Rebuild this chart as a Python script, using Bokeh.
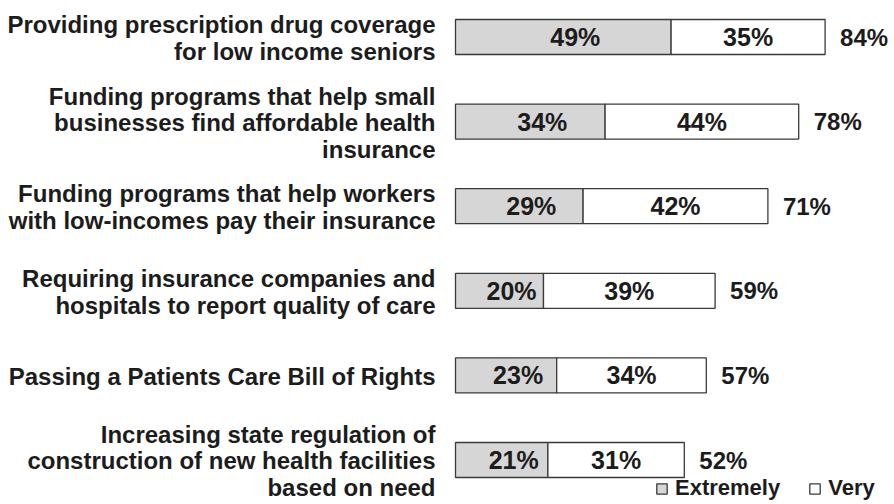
from bokeh.plotting import figure
from bokeh.models import ColumnDataSource, Range1d, Legend, LegendItem
from bokeh.core.properties import value
from bokeh.embed import file_html
from bokeh.resources import INLINE

categories = [
    "Providing prescription drug coverage\nfor low income seniors",
    "Funding programs that help small\nbusinesses find affordable health\ninsurance",
    "Funding programs that help workers\nwith low-incomes pay their insurance",
    "Requiring insurance companies and\nhospitals to report quality of care",
    "Passing a Patients Care Bill of Rights",
    "Increasing state regulation of\nconstruction of new health facilities\nbased on need",
]
extremely = [49, 34, 29, 20, 23, 21]
very = [35, 44, 42, 39, 34, 31]
totals = [84, 78, 71, 59, 57, 52]
series_names = ["Extremely", "Very"]

FONT_NAME = "Liberation Sans"
FONT = value(FONT_NAME)
GREY = "#d6d6d6"
EDGE = "#3a3a3a"
TXT = "#1c1c1c"

idx = list(range(len(categories)))
src = ColumnDataSource(dict(
    y=idx,
    cat=categories,
    ext=extremely,
    very=very,
    tot=totals,
    ext_mid=[e / 2 for e in extremely],
    very_left=extremely,
    very_right=[e + v for e, v in zip(extremely, very)],
    very_mid=[e + v / 2 for e, v in zip(extremely, very)],
    ext_lbl=[f"{e}%" for e in extremely],
    very_lbl=[f"{v}%" for v in very],
    tot_lbl=[f"{t}%" for t in totals],
    zero=[0] * len(categories),
))

W, H = 892, 502
PX_PER_PCT = 4.4
X0 = 455          # pixel where 0% sits
ROW_PX = 84.6     # pixels between rows
Y0 = 36.5         # pixel of first row centre
p = figure(width=W, height=H, output_backend="svg", toolbar_location=None,
           x_range=Range1d(-X0 / PX_PER_PCT, (W - X0) / PX_PER_PCT),
           y_range=Range1d((H - Y0) / ROW_PX, -Y0 / ROW_PX),
           min_border=0, outline_line_color=None)
p.xaxis.visible = False
p.yaxis.visible = False
p.xgrid.visible = False
p.ygrid.visible = False
p.background_fill_color = "white"
p.border_fill_color = "white"

bh = 35 / ROW_PX
r1 = p.hbar(y="y", left="zero", right="ext", height=bh, source=src,
            fill_color=GREY, line_color=EDGE, line_width=1.3)
r2 = p.hbar(y="y", left="very_left", right="very_right", height=bh, source=src,
            fill_color="white", line_color=EDGE, line_width=1.3)

p.text(x="ext_mid", y="y", text="ext_lbl", source=src, text_font=FONT,
       text_font_style="bold", text_font_size="25px", text_color=TXT,
       text_align="center", text_baseline="middle", x_offset=12)
p.text(x="very_mid", y="y", text="very_lbl", source=src, text_font=FONT,
       text_font_style="bold", text_font_size="25px", text_color=TXT,
       text_align="center", text_baseline="middle")
p.text(x="tot", y="y", text="tot_lbl", source=src, text_font=FONT,
       text_font_style="bold", text_font_size="24px", text_color=TXT,
       text_align="left", text_baseline="middle", x_offset=15)
p.text(x="zero", y="y", text="cat", source=src, text_font=FONT,
       text_font_style="bold", text_font_size="24px", text_color=TXT,
       text_align="right", text_baseline="middle", x_offset=-20, y_offset=1,
       text_line_height=0.98)

legend = Legend(items=[LegendItem(label=series_names[0], renderers=[r1]),
                       LegendItem(label=series_names[1], renderers=[r2])],
                orientation="horizontal", location=(655, 1),
                label_text_font=FONT_NAME, label_text_font_style="bold",
                label_text_font_size="22px", label_text_color=TXT,
                glyph_width=13, glyph_height=13, label_standoff=7, spacing=28,
                padding=0, margin=0, border_line_alpha=0, background_fill_alpha=0)
p.add_layout(legend)

open("out.html", "w").write(file_html(p, INLINE))
